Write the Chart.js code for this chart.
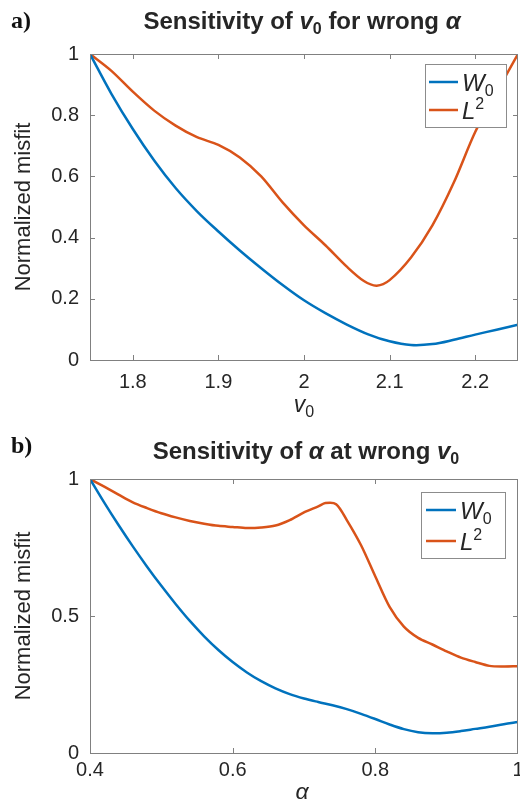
<!DOCTYPE html>
<html><head><meta charset="utf-8">
<script src="https://cdn.jsdelivr.net/npm/chart.js@4.4.0/dist/chart.umd.min.js"></script>
<style>
html,body{margin:0;padding:0;background:#fff;overflow:hidden;width:520px;height:801px;}
.wrap{position:absolute;left:0;width:540px;}
#w1{top:0;height:425px;}
#w2{top:400px;height:401px;}
canvas{display:block;}
</style></head><body>
<div class="wrap" id="w1"><canvas id="c1" width="540" height="425"></canvas></div>
<div class="wrap" id="w2"><canvas id="c2" width="540" height="401"></canvas></div>
<script>
// ---------- DATA ----------
// Panel a) sensitivity of v0 for wrong alpha
const v0Grid   = [1.75,1.775,1.8,1.825,1.85,1.875,1.9,1.925,1.95,1.975,2.0,2.025,2.05,2.075,2.1,2.125,2.15,2.175,2.2,2.225,2.25];
const v0W0     = [1.0,0.87,0.755,0.652,0.562,0.486,0.42,0.358,0.30,0.245,0.195,0.153,0.116,0.084,0.061,0.049,0.052,0.066,0.083,0.099,0.115];
const v0GridL2 = [1.75,1.775,1.8,1.825,1.85,1.875,1.9,1.925,1.95,1.975,2.0,2.025,2.05,2.07,2.085,2.1,2.125,2.15,2.175,2.2,2.225,2.25];
const v0L2     = [1.0,0.945,0.877,0.815,0.766,0.728,0.703,0.662,0.60,0.515,0.44,0.375,0.305,0.258,0.243,0.261,0.335,0.44,0.58,0.745,0.875,1.0];
const v0XTicks = [1.8,1.9,2,2.1,2.2];
const v0YTicks = [0,0.2,0.4,0.6,0.8,1];

// Panel b) sensitivity of alpha at wrong v0
const alphaGrid   = [0.40,0.42,0.44,0.46,0.48,0.50,0.52,0.54,0.56,0.58,0.60,0.62,0.64,0.66,0.68,0.70,0.72,0.74,0.76,0.78,0.80,0.82,0.84,0.86,0.88,0.90,0.92,0.94,0.96,0.98,1.00];
const alphaW0     = [1.0,0.914,0.832,0.754,0.68,0.61,0.544,0.482,0.426,0.376,0.332,0.294,0.262,0.236,0.215,0.199,0.186,0.174,0.16,0.143,0.124,0.104,0.087,0.076,0.072,0.074,0.080,0.088,0.096,0.105,0.113];
const alphaGridL2 = [0.40,0.42,0.44,0.46,0.48,0.50,0.52,0.54,0.56,0.58,0.60,0.62,0.64,0.66,0.68,0.70,0.72,0.73,0.745,0.76,0.78,0.80,0.82,0.84,0.86,0.88,0.90,0.92,0.94,0.96,0.98,1.00];
const alphaL2     = [1.0,0.972,0.943,0.915,0.894,0.875,0.86,0.847,0.837,0.829,0.825,0.821,0.823,0.83,0.85,0.878,0.9,0.912,0.908,0.85,0.758,0.644,0.533,0.461,0.42,0.396,0.371,0.348,0.332,0.318,0.316,0.317];
const alphaXTicks = [0.4,0.6,0.8,1];
const alphaYTicks = [0,0.5,1];

const seriesNames = ['W0','L2'];
const colW0 = '#0072BD', colL2 = '#D95319';
// ---------- END DATA ----------

const SANS = "'Liberation Sans', Arial, Helvetica, sans-serif";
const SERIF = "'Liberation Serif', 'Times New Roman', serif";
const TXT = '#262626';
const AX = '#808080';

function drawRich(ctx, segs, x, y, align) {
  let w = 0;
  segs.forEach(s => { ctx.font = s.font; s.w = ctx.measureText(s.text).width; w += s.w; });
  let cx = align === 'center' ? x - w / 2 : x;
  ctx.textAlign = 'left'; ctx.textBaseline = 'alphabetic';
  segs.forEach(s => { ctx.font = s.font; ctx.fillStyle = s.color || TXT; ctx.fillText(s.text, cx, y + (s.dy || 0)); cx += s.w; });
}

const decor = {
  id: 'decor',
  afterDraw(chart, args, o) {
    const ctx = chart.ctx, a = chart.chartArea;
    ctx.save();
    ctx.strokeStyle = AX; ctx.lineWidth = 1;
    ctx.strokeRect(Math.round(a.left) + 0.5, Math.round(a.top) + 0.5, Math.round(a.right - a.left) - 1, Math.round(a.bottom - a.top));
    const tl = 5;
    chart.scales.x.ticks.forEach(t => {
      const px = Math.round(chart.scales.x.getPixelForValue(t.value)) + 0.5;
      if (px < a.left + 2 || px > a.right - 2) return;
      ctx.beginPath(); ctx.moveTo(px, a.bottom); ctx.lineTo(px, a.bottom - tl);
      ctx.moveTo(px, a.top); ctx.lineTo(px, a.top + tl); ctx.stroke();
    });
    chart.scales.y.ticks.forEach(t => {
      const py = Math.round(chart.scales.y.getPixelForValue(t.value)) + 0.5;
      if (py < a.top + 2 || py > a.bottom - 2) return;
      ctx.beginPath(); ctx.moveTo(a.left, py); ctx.lineTo(a.left + tl, py);
      ctx.moveTo(a.right, py); ctx.lineTo(a.right - tl, py); ctx.stroke();
    });
    drawRich(ctx, [{text: o.panel, font: 'bold 24px ' + SERIF, color: '#111'}], 11, o.panelY, 'left');
    drawRich(ctx, o.title, o.titleX, o.titleY, 'center');
    drawRich(ctx, o.xTitle, o.xTitleX, o.xTitleY, 'center');
    const L = o.legend;
    ctx.fillStyle = '#fff';
    ctx.fillRect(L.box[0], L.box[1], L.box[2] - L.box[0], L.box[3] - L.box[1]);
    ctx.strokeStyle = '#8c8c8c'; ctx.lineWidth = 1;
    ctx.strokeRect(L.box[0] + 0.5, L.box[1] + 0.5, L.box[2] - L.box[0], L.box[3] - L.box[1]);
    chart.data.datasets.forEach((ds, i) => {
      const y = L.rows[i];
      ctx.strokeStyle = ds.borderColor; ctx.lineWidth = 2.5;
      ctx.beginPath(); ctx.moveTo(L.lineX[0], y); ctx.lineTo(L.lineX[1], y); ctx.stroke();
      const name = seriesNames[i];
      const segs = [{text: name[0], font: 'italic 24px ' + SANS}];
      segs.push(i === 0 ? {text: name[1], font: '16px ' + SANS, dy: 5} : {text: name[1], font: '16px ' + SANS, dy: -10});
      drawRich(ctx, segs, L.textX, y + 9, 'left');
    });
    ctx.restore();
  }
};

function makeChart(id, cfg) {
  const pts = (xs, ys) => xs.map((x, i) => ({x: x, y: ys[i]}));
  return new Chart(document.getElementById(id), {
    type: 'line',
    data: {
      datasets: [
        {label: 'W0', data: pts(cfg.xW, cfg.yW), borderColor: colW0, backgroundColor: colW0, borderWidth: 2.5, pointRadius: 0, tension: 0.35, fill: false},
        {label: 'L2', data: pts(cfg.xL, cfg.yL), borderColor: colL2, backgroundColor: colL2, borderWidth: 2.5, pointRadius: 0, tension: 0.3, fill: false}
      ]
    },
    plugins: [decor],
    options: {
      responsive: false, animation: false, devicePixelRatio: 1,
      layout: {padding: {left: 0, top: cfg.padTop, right: 22, bottom: 0}},
      plugins: {legend: {display: false}, title: {display: false}, tooltip: {enabled: false}, decor: cfg.decor},
      scales: {
        x: {
          type: 'linear', min: cfg.xMin, max: cfg.xMax,
          afterBuildTicks: s => { s.ticks = cfg.xTicks.map(v => ({value: v})); },
          afterFit: s => { s.height = cfg.xHeight; },
          grid: {display: false, drawTicks: false}, border: {display: false},
          ticks: {font: {family: SANS, size: 20}, color: TXT, padding: cfg.xPad, maxRotation: 0, autoSkip: false, callback: v => String(v)}
        },
        y: {
          type: 'linear', min: 0, max: 1,
          afterBuildTicks: s => { s.ticks = cfg.yTicks.map(v => ({value: v})); },
          afterFit: s => { s.width = 90; },
          grid: {display: false, drawTicks: false}, border: {display: false},
          ticks: {font: {family: SANS, size: 20}, color: TXT, padding: 11, autoSkip: false, callback: v => String(v)},
          title: {display: true, text: 'Normalized misfit', color: TXT, font: {family: SANS, size: 22}, padding: {top: 11, bottom: 0}}
        }
      }
    }
  });
}

makeChart('c1', {
  xW: v0Grid, yW: v0W0, xL: v0GridL2, yL: v0L2,
  xMin: 1.75, xMax: 2.25, xTicks: v0XTicks, yTicks: v0YTicks,
  padTop: 54, xHeight: 65, xPad: 10,
  decor: {
    panel: 'a)', panelY: 28,
    title: [
      {text: 'Sensitivity of ', font: 'bold 24px ' + SANS},
      {text: 'v', font: 'italic bold 24px ' + SANS},
      {text: '0', font: 'bold 16px ' + SANS, dy: 5},
      {text: ' for wrong ', font: 'bold 24px ' + SANS},
      {text: 'α', font: 'italic bold 24px ' + SANS}
    ], titleX: 302, titleY: 29,
    xTitle: [
      {text: 'v', font: 'italic 23px ' + SANS},
      {text: '0', font: '16px ' + SANS, dy: 5}
    ], xTitleX: 304, xTitleY: 412,
    legend: {box: [425, 64, 506, 127], rows: [82, 110], lineX: [429, 458], textX: 462}
  }
});

makeChart('c2', {
  xW: alphaGrid, yW: alphaW0, xL: alphaGridL2, yL: alphaL2,
  xMin: 0.4, xMax: 1.0, xTicks: alphaXTicks, yTicks: alphaYTicks,
  padTop: 79, xHeight: 48, xPad: 5,
  decor: {
    panel: 'b)', panelY: 53,
    title: [
      {text: 'Sensitivity of ', font: 'bold 24px ' + SANS},
      {text: 'α', font: 'italic bold 24px ' + SANS},
      {text: ' at wrong ', font: 'bold 24px ' + SANS},
      {text: 'v', font: 'italic bold 24px ' + SANS},
      {text: '0', font: 'bold 16px ' + SANS, dy: 5}
    ], titleX: 306, titleY: 59,
    xTitle: [
      {text: 'α', font: 'italic 23px ' + SANS}
    ], xTitleX: 302, xTitleY: 399,
    legend: {box: [421, 92, 505, 158], rows: [110, 141], lineX: [426, 456], textX: 460}
  }
});
</script>
</body></html>
